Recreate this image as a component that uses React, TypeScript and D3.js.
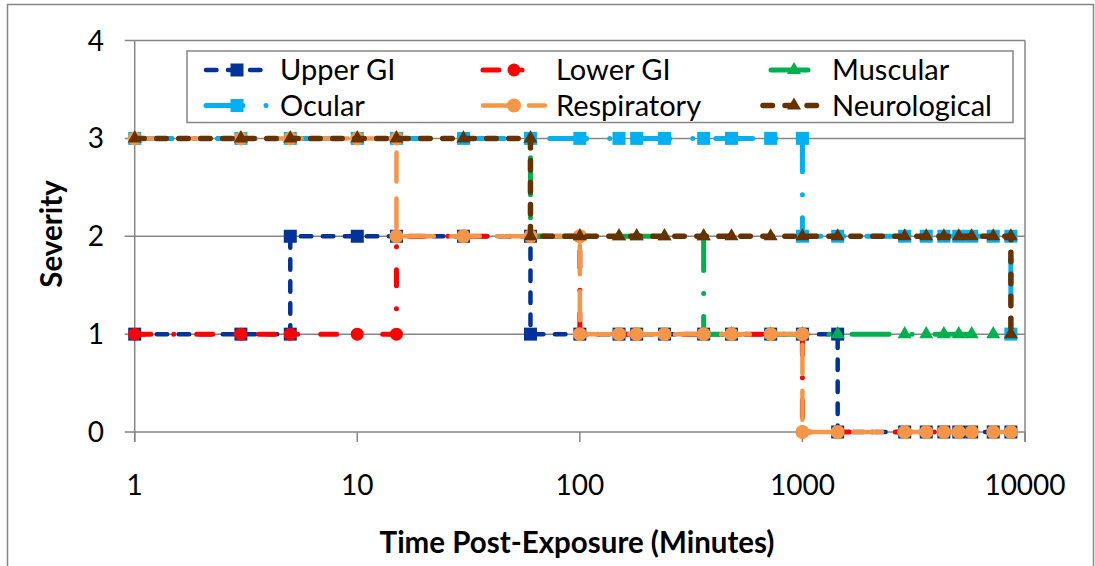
import React from 'react';
import * as d3 from 'd3';

// ---------- data ----------
const TIMES = [1, 3, 5, 10, 15, 30, 60, 100, 150, 180, 240, 360, 480, 720, 1000, 1440, 2880, 3600, 4320, 5040, 5760, 7200, 8640];

const UPPER_GI = [1, 1, 2, 2, 2, 2, 1, 1, 1, 1, 1, 1, 1, 1, 1, 0, 0, 0, 0, 0, 0, 0, 0];
const LOWER_GI = [1, 1, 1, 1, 2, 2, 2, 1, 1, 1, 1, 1, 1, 1, 0, 0, 0, 0, 0, 0, 0, 0, 0];
const MUSCULAR = [3, 3, 3, 3, 3, 3, 2, 2, 2, 2, 2, 1, 1, 1, 1, 1, 1, 1, 1, 1, 1, 1, 1];
const OCULAR = [3, 3, 3, 3, 3, 3, 3, 3, 3, 3, 3, 3, 3, 3, 2, 2, 2, 2, 2, 2, 2, 2, 1];
const RESPIRATORY = [3, 3, 3, 3, 2, 2, 2, 1, 1, 1, 1, 1, 1, 1, 0, 0, 0, 0, 0, 0, 0, 0, 0];
const NEUROLOGICAL = [3, 3, 3, 3, 3, 3, 2, 2, 2, 2, 2, 2, 2, 2, 2, 2, 2, 2, 2, 2, 2, 2, 1];

const X_TICKS = [1, 10, 100, 1000, 10000];
const Y_TICKS = [0, 1, 2, 3, 4];

type Marker = 'square' | 'circle' | 'triangle';
interface Series {
  name: string;
  values: number[];
  color: string;
  width: number;
  dash: string;
  legendOffset: number;
  marker: Marker;
  msize: number;
}

const SERIES: Series[] = [
  { name: 'Upper GI', values: UPPER_GI, color: '#003399', width: 4.5, dash: '10.5 11.5', legendOffset: 0, marker: 'square', msize: 13 },
  { name: 'Lower GI', values: LOWER_GI, color: '#FF0000', width: 5, dash: '16 23 0.01 23', legendOffset: 0, marker: 'circle', msize: 13 },
  { name: 'Muscular', values: MUSCULAR, color: '#00B050', width: 5, dash: '37 23 0.01 23', legendOffset: -8, marker: 'triangle', msize: 14 },
  { name: 'Ocular', values: OCULAR, color: '#00B0F0', width: 5, dash: '37 23 0.01 23', legendOffset: 0, marker: 'square', msize: 13 },
  { name: 'Respiratory', values: RESPIRATORY, color: '#F79646', width: 4.5, dash: '29 17', legendOffset: 0, marker: 'circle', msize: 14 },
  { name: 'Neurological', values: NEUROLOGICAL, color: '#663300', width: 5.5, dash: '9.5 12.5', legendOffset: 0, marker: 'triangle', msize: 14 },
];

// ---------- layout ----------
const W = 1095;
const H = 566;
const X0 = 134.7;
const X1 = 1025;
const Y0 = 432;
const Y1 = 40.5;
const FONT = 'Lato, "Open Sans", sans-serif';
const GRID = '#868686';

function stepPoints(values: number[]): [number, number][] {
  const pts: [number, number][] = [];
  values.forEach((v, i) => {
    if (i > 0 && values[i - 1] !== v) pts.push([TIMES[i], values[i - 1]]);
    pts.push([TIMES[i], v]);
  });
  return pts;
}

function markerPath(m: Marker, size: number): string {
  const type = m === 'square' ? d3.symbolSquare : m === 'circle' ? d3.symbolCircle : d3.symbolTriangle;
  const area = m === 'square' ? size * size : m === 'circle' ? Math.PI * (size / 2) ** 2 : (size * size * Math.sqrt(3)) / 4;
  return d3.symbol().type(type).size(area)() || '';
}

export default function App() {
  const x = d3.scaleLog().domain([1, 10000]).range([X0, X1]);
  const y = d3.scaleLinear().domain([0, 4]).range([Y0, Y1]);
  const line = d3.line<[number, number]>().x((d) => x(d[0])).y((d) => y(d[1]));

  const legendCols = [206, 483, 763];
  const legendTextX = [280, 556, 832];
  const legendRows = [70, 105.5];
  const sampleLen = 62;

  return (
    <svg width={W} height={H} style={{ position: 'absolute', left: 0, top: 0, background: '#fff' }} fontFamily={FONT}>
      <rect x={7.5} y={4.5} width={1086} height={600} fill="#fff" stroke={GRID} strokeWidth={1.5} />

      {/* gridlines */}
      {Y_TICKS.filter((t) => t > 0).map((t) => (
        <line key={'g' + t} x1={X0 - 10} x2={X1} y1={y(t)} y2={y(t)} stroke={GRID} strokeWidth={1.5} />
      ))}
      {/* axes */}
      <line x1={X0 - 10} x2={X1} y1={Y0} y2={Y0} stroke={GRID} strokeWidth={1.5} />
      <line x1={X0} x2={X0} y1={Y1} y2={Y0 + 10} stroke={GRID} strokeWidth={1.5} />
      <line x1={X1} x2={X1} y1={Y1} y2={Y0 + 10} stroke={GRID} strokeWidth={1.5} />
      {X_TICKS.map((t) => (
        <line key={'xt' + t} x1={x(t)} x2={x(t)} y1={Y0} y2={Y0 + 10} stroke={GRID} strokeWidth={1.5} />
      ))}

      {/* tick labels */}
      {X_TICKS.map((t) => (
        <text key={'xl' + t} x={x(t)} y={495} textAnchor="middle" fontSize={28} fill="#000">
          {t}
        </text>
      ))}
      {Y_TICKS.map((t) => (
        <text key={'yl' + t} x={104} y={y(t) + 10} textAnchor="end" fontSize={28} fill="#000">
          {t}
        </text>
      ))}

      {/* axis titles */}
      <text x={577} y={553} textAnchor="middle" fontSize={29.5} fontWeight="bold" fill="#000">
        Time Post-Exposure (Minutes)
      </text>
      <text transform={`translate(62,234) rotate(-90)`} textAnchor="middle" fontSize={29.5} fontWeight="bold" fill="#000">
        Severity
      </text>

      {/* series */}
      {SERIES.map((s) => {
        const pts = stepPoints(s.values);
        const mp = markerPath(s.marker, s.msize);
        return (
          <g key={s.name}>
            <path d={line(pts) || ''} fill="none" stroke={s.color} strokeWidth={s.width} strokeDasharray={s.dash} strokeLinecap="round" strokeLinejoin="round" />
            {pts.map((p, i) => (
              <path key={i} d={mp} transform={`translate(${x(p[0])},${y(p[1])})`} fill={s.color} />
            ))}
          </g>
        );
      })}

      {/* legend */}
      <rect x={187} y={51} width={826} height={71.5} fill="#fff" stroke={GRID} strokeWidth={1.5} />
      {SERIES.map((s, i) => {
        const col = i % 3;
        const row = Math.floor(i / 3);
        const lx = legendCols[col];
        const ly = legendRows[row];
        return (
          <g key={'lg' + s.name}>
            <line x1={lx} x2={lx + sampleLen} y1={ly} y2={ly} stroke={s.color} strokeWidth={s.width} strokeDasharray={s.dash} strokeDashoffset={s.legendOffset} strokeLinecap="round" />
            <path d={markerPath(s.marker, s.msize)} transform={`translate(${lx + sampleLen / 2},${ly})`} fill={s.color} />
            <text x={legendTextX[col]} y={ly + 10} fontSize={29} fill="#000">
              {s.name}
            </text>
          </g>
        );
      })}
    </svg>
  );
}
